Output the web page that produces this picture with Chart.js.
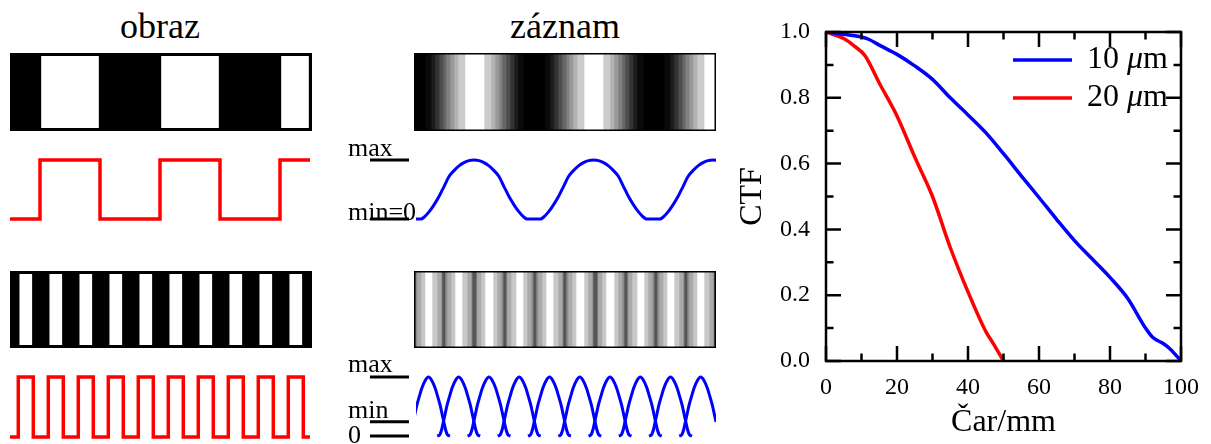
<!DOCTYPE html>
<html lang="cs">
<head>
<meta charset="utf-8">
<title>CTF</title>
<script src="https://cdn.jsdelivr.net/npm/chart.js@4.4.1/dist/chart.umd.min.js"></script>
<style>
	body { margin: 0; background: #fff; }
	#plocha { position: relative; width: 1211px; height: 444px; overflow: hidden; font-family: 'Liberation Serif', serif; }
	#plocha canvas { position: absolute; }
	.nadpis { position: absolute; font-size: 36px; line-height: 36px; transform: translateX(-50%); white-space: nowrap; }
</style>
</head>
<body>
<div id="plocha">
	<div class="nadpis" style="left:160px; top:8px">obraz</div>
	<div class="nadpis" style="left:565px; top:8px">záznam</div>

	<canvas id="obraz1" width="302" height="78" style="left:10px; top:53px"></canvas>
	<canvas id="obdelnik1" width="308" height="71" style="left:6px; top:154px"></canvas>
	<canvas id="zaznam1" width="302" height="78" style="left:414px; top:53px"></canvas>
	<canvas id="signal1" width="380" height="95" style="left:340px; top:135px"></canvas>

	<canvas id="obraz2" width="302" height="77" style="left:10px; top:271px"></canvas>
	<canvas id="obdelnik2" width="308" height="72" style="left:6px; top:371px"></canvas>
	<canvas id="zaznam2" width="302" height="77" style="left:414px; top:271px"></canvas>
	<canvas id="signal2" width="380" height="94" style="left:340px; top:350px"></canvas>

	<canvas id="graf" width="481" height="444" style="left:730px; top:0px"></canvas>
</div>

<script>
/* Data */

// bílé pruhy předlohy (od, do) v px od levého okraje
var pruhy1 = [[30, 90], [150, 210], [270, 300]];
var pruhy2 = [[8.3, 23.3], [38.3, 53.3], [68.3, 83.3], [98.3, 113.3], [128.3, 143.3],
	[158.3, 173.3], [188.3, 203.3], [218.3, 233.3], [248.3, 263.3], [278.3, 293.3]];

// středy světlých míst záznamu
var stredy1 = [60, 179.5, 299];
var stredy2 = [14.5, 44.7, 75, 105.2, 135.5, 165.8, 196, 226.3, 256.5, 286.7];

// odstíny záznamu podle vzdálenosti od středu
var zaznamD1 = [9.5, 16.5, 20.5, 24.5, 28, 31.5, 35.5, 39.5, 43.5, 49, 61];
var zaznamSed1 = [255, 204, 179, 153, 128, 102, 77, 51, 28, 10, 0];
var zaznamD2 = [3.7, 8, 12, 13.5, 16];
var zaznamSed2 = [255, 200, 170, 140, 85];

// průběh signálu podle vzdálenosti od středu
var signalD1 = [0, 5, 10, 15, 20, 25, 30, 35, 40, 45, 50, 53, 60];
var signalV1 = [1, 0.99, 0.955, 0.9, 0.82, 0.72, 0.55, 0.38, 0.24, 0.12, 0.03, 0, 0];
var signalD2 = [0, 3, 6.7, 9, 11.5, 13.5, 15.3, 17, 19, 21.5];
var signalV2 = [1, 0.95, 0.81, 0.68, 0.53, 0.38, 0.24, 0.11, 0.02, 0];
var minimum2 = 0.24;

// CTF
var rozliseni = ['10', '20'];
var car10 = [0, 5, 10, 12, 15, 20, 25, 30, 35, 40, 45, 50, 55, 60, 65, 70, 75, 80, 85, 90, 92, 95, 97, 100];
var ctf10 = [1.0, 0.993, 0.985, 0.978, 0.96, 0.932, 0.897, 0.856, 0.80, 0.748, 0.694, 0.63, 0.563,
	0.497, 0.43, 0.366, 0.31, 0.254, 0.19, 0.10, 0.072, 0.053, 0.036, 0.0];
var car20 = [0, 5, 8, 11, 15, 20, 25, 30, 35, 40, 45, 47, 50];
var ctf20 = [1.0, 0.98, 0.957, 0.928, 0.845, 0.745, 0.62, 0.50, 0.345, 0.21, 0.09, 0.055, 0.0];

Chart.defaults.font.family = "'Liberation Serif', serif";
Chart.defaults.color = '#000';

var zakladni = {
	responsive: false,
	animation: false,
	events: [],
	plugins: { legend: { display: false }, tooltip: { enabled: false } }
};

function nastaveni(dalsi) {
	return Object.assign({}, zakladni, dalsi);
}

/* Rámeček a pozadí */
function ramecek(sirka) {
	return {
		id: 'ramecek',
		afterDatasetsDraw: function(chart) {
			var a = chart.chartArea, ctx = chart.ctx;
			ctx.save();
			ctx.strokeStyle = '#000';
			ctx.lineWidth = sirka;
			ctx.strokeRect(a.left + sirka / 2, a.top + sirka / 2, a.right - a.left - sirka, a.bottom - a.top - sirka);
			ctx.restore();
		}
	};
}

var cernePozadi = {
	id: 'cernePozadi',
	beforeDatasetsDraw: function(chart) {
		var a = chart.chartArea;
		chart.ctx.save();
		chart.ctx.fillStyle = '#000';
		chart.ctx.fillRect(a.left, a.top, a.right - a.left, a.bottom - a.top);
		chart.ctx.restore();
	}
};

/* Pruhy (předloha i záznam) jako vodorovné plovoucí sloupce */
function pruhovyGraf(id, useky, rozsah, okraj, pluginy) {
	new Chart(document.getElementById(id), {
		type: 'bar',
		data: {
			labels: [''],
			datasets: useky.map(function(u) {
				return {
					data: [[u[0], u[1]]],
					backgroundColor: u[2],
					borderColor: '#000',
					borderWidth: okraj,
					borderSkipped: false,
					barPercentage: 1,
					categoryPercentage: 1,
					grouped: false
				};
			})
		},
		options: nastaveni({
			indexAxis: 'y',
			layout: { padding: 0 },
			scales: {
				x: { type: 'linear', min: 0, max: rozsah, display: false },
				y: { display: false }
			}
		}),
		plugins: pluginy
	});
}

function bilePruhy(pruhy) {
	return pruhy.map(function(p) { return [p[0], p[1], '#fff']; });
}

// rozdělí záznam na úseky stejného odstínu
function odstiny(stredy, hrany, sede, rozsah) {
	var body = [0, rozsah];
	stredy.forEach(function(c) {
		hrany.forEach(function(h) {
			[c - h, c + h].forEach(function(x) {
				if (x > 0 && x < rozsah) body.push(Math.round(x));
			});
		});
	});
	body.sort(function(a, b) { return a - b; });
	var useky = [];
	for (var i = 0; i < body.length - 1; i++) {
		if (body[i + 1] - body[i] < 0.5) continue;
		var m = (body[i] + body[i + 1]) / 2;
		var d = Math.min.apply(null, stredy.map(function(c) { return Math.abs(m - c); }));
		var k = 0;
		while (k < hrany.length - 1 && d >= hrany[k]) k++;
		var s = sede[k];
		useky.push([body[i], body[i + 1], 'rgb(' + s + ',' + s + ',' + s + ')']);
	}
	return useky;
}

/* Obdélníkový průběh předlohy */
function obdelnik(pruhy, konec) {
	var body = [{ x: 0, y: 0 }];
	pruhy.forEach(function(p) {
		body.push({ x: p[0], y: 1 });
		body.push(p[1] >= konec ? { x: konec, y: 1 } : { x: p[1], y: 0 });
	});
	if (body[body.length - 1].x < konec) body.push({ x: konec, y: 0 });
	return body;
}

function obdelnikGraf(id, pruhy) {
	new Chart(document.getElementById(id), {
		type: 'line',
		data: {
			datasets: [{
				data: obdelnik(pruhy, 300),
				stepped: true,
				borderColor: '#ff0000',
				borderWidth: 3.5,
				pointRadius: 0,
				clip: false
			}]
		},
		options: nastaveni({
			layout: { padding: { left: 4, right: 4, top: 6, bottom: 6 } },
			scales: {
				x: { type: 'linear', min: 0, max: 300, display: false },
				y: { min: 0, max: 1, display: false }
			}
		})
	});
}

/* Signál záznamu */
function vrchol(c, profilD, profilV) {
	var body = [];
	for (var i = profilD.length - 1; i > 0; i--) body.push({ x: c - profilD[i], y: profilV[i] });
	for (var j = 0; j < profilD.length; j++) body.push({ x: c + profilD[j], y: profilV[j] });
	return body;
}

function znacka(uroven) {
	return {
		data: [{ x: -44, y: uroven }, { x: -5, y: uroven }],
		borderColor: '#000',
		borderWidth: 3,
		pointRadius: 0,
		clip: false
	};
}

function popisky(texty) {
	return {
		id: 'popisky',
		afterDatasetsDraw: function(chart) {
			var ctx = chart.ctx, sx = chart.scales.x, sy = chart.scales.y;
			ctx.save();
			ctx.font = "26px 'Liberation Serif', serif";
			ctx.fillStyle = '#000';
			ctx.textBaseline = 'alphabetic';
			texty.forEach(function(t) {
				ctx.fillText(t.text, sx.getPixelForValue(-66), sy.getPixelForValue(t.y) + t.posun);
			});
			ctx.restore();
		}
	};
}

function signalGraf(id, rady, znacky, texty, odsazeni) {
	var datasets = rady.map(function(body) {
		return {
			data: body,
			borderColor: '#0000ff',
			borderWidth: 3,
			pointRadius: 0,
			cubicInterpolationMode: 'monotone',
			// křivka začíná až u okraje záznamu
			clip: { left: -72, right: 0, top: 8, bottom: 8 }
		};
	});
	znacky.forEach(function(u) { datasets.push(znacka(u)); });
	new Chart(document.getElementById(id), {
		type: 'line',
		data: { datasets: datasets },
		options: nastaveni({
			layout: { padding: odsazeni },
			scales: {
				x: { type: 'linear', min: -70, max: 302, display: false },
				y: { min: 0, max: 1, display: false }
			}
		}),
		plugins: [popisky(texty)]
	});
}

/* Graf CTF */
var ctfOsy = {
	id: 'ctfOsy',
	afterDatasetsDraw: function(chart) {
		var ctx = chart.ctx, a = chart.chartArea, sx = chart.scales.x, sy = chart.scales.y;
		ctx.save();
		ctx.strokeStyle = '#000';
		ctx.lineWidth = 2.5;
		ctx.beginPath();
		for (var v = 0; v <= 100; v += 10) {
			var x = sx.getPixelForValue(v), l = v % 20 === 0 ? 15 : 7.5;
			ctx.moveTo(x, a.bottom); ctx.lineTo(x, a.bottom - l);
			ctx.moveTo(x, a.top); ctx.lineTo(x, a.top + l);
		}
		for (var i = 0; i <= 10; i++) {
			var y = sy.getPixelForValue(i / 10), m = i % 2 === 0 ? 15 : 7.5;
			ctx.moveTo(a.left, y); ctx.lineTo(a.left + m, y);
			ctx.moveTo(a.right, y); ctx.lineTo(a.right - m, y);
		}
		ctx.stroke();
		ctx.strokeRect(a.left, a.top, a.right - a.left, a.bottom - a.top);
		ctx.restore();
	}
};

var ctfLegenda = {
	id: 'ctfLegenda',
	afterDraw: function(chart) {
		var ctx = chart.ctx;
		ctx.save();
		ctx.textBaseline = 'middle';
		chart.data.datasets.forEach(function(ds, i) {
			var y = 60 + i * 38;
			ctx.strokeStyle = ds.borderColor;
			ctx.lineWidth = 3.5;
			ctx.beginPath();
			ctx.moveTo(283, y);
			ctx.lineTo(342, y);
			ctx.stroke();

			var casti = ds.label.split('μ'), x = 357;
			ctx.fillStyle = '#000';
			ctx.font = "32px 'Liberation Serif', serif";
			ctx.fillText(casti[0], x, y);
			x += ctx.measureText(casti[0]).width;
			ctx.font = "italic 32px 'Liberation Serif', serif";
			ctx.fillText('μ', x, y);
			x += ctx.measureText('μ').width;
			ctx.font = "32px 'Liberation Serif', serif";
			ctx.fillText(casti[1], x, y);
		});
		ctx.restore();
	}
};

function body(xs, ys) {
	return xs.map(function(x, i) { return { x: x, y: ys[i] }; });
}

function ctfGraf() {
	new Chart(document.getElementById('graf'), {
		type: 'line',
		data: {
			datasets: [{
				label: rozliseni[0] + ' μm',
				data: body(car10, ctf10),
				borderColor: '#0000ff',
				borderWidth: 3.5,
				pointRadius: 0,
				cubicInterpolationMode: 'monotone'
			}, {
				label: rozliseni[1] + ' μm',
				data: body(car20, ctf20),
				borderColor: '#ff0000',
				borderWidth: 3.5,
				pointRadius: 0,
				cubicInterpolationMode: 'monotone'
			}]
		},
		options: nastaveni({
			layout: { padding: { top: 32, right: 21, left: 0, bottom: 0 } },
			scales: {
				x: {
					type: 'linear', min: 0, max: 100,
					grid: { display: false, drawTicks: false },
					border: { display: false },
					ticks: { stepSize: 20, padding: 12, font: { size: 24 } },
					title: { display: true, text: 'Čar/mm', font: { size: 32 }, padding: { top: 0, bottom: 2 } },
					afterFit: function(scale) { scale.height = 83; }
				},
				y: {
					min: 0, max: 1,
					grid: { display: false, drawTicks: false },
					border: { display: false },
					ticks: {
						stepSize: 0.2, padding: 16, font: { size: 24 },
						callback: function(v) { return v.toFixed(1); }
					},
					title: { display: true, text: 'CTF', font: { size: 32 }, padding: { top: 3, bottom: 0 } },
					afterFit: function(scale) { scale.width = 96; }
				}
			}
		}),
		plugins: [ctfOsy, ctfLegenda]
	});
}

/* Vykreslení */
pruhovyGraf('obraz1', bilePruhy(pruhy1), 302, 1.5, [cernePozadi, ramecek(3)]);
pruhovyGraf('obraz2', bilePruhy(pruhy2), 302, 1.5, [cernePozadi, ramecek(3)]);
pruhovyGraf('zaznam1', odstiny(stredy1, zaznamD1, zaznamSed1, 302), 302, 0, [ramecek(1.5)]);
pruhovyGraf('zaznam2', odstiny(stredy2, zaznamD2, zaznamSed2, 302), 302, 0, [ramecek(1.5)]);

obdelnikGraf('obdelnik1', pruhy1);
obdelnikGraf('obdelnik2', pruhy2);

var rady1 = [[]];
stredy1.forEach(function(c) { rady1[0] = rady1[0].concat(vrchol(c, signalD1, signalV1)); });
rady1[0].sort(function(a, b) { return a.x - b.x; });
signalGraf('signal1', rady1, [1, 0],
	[{ text: 'max', y: 1, posun: -4 }, { text: 'min=0', y: 0, posun: 1 }],
	{ left: 4, right: 4, top: 25, bottom: 11 });

var rady2 = stredy2.map(function(c) { return vrchol(c, signalD2, signalV2); });
signalGraf('signal2', rady2, [1, minimum2, 0],
	[{ text: 'max', y: 1, posun: -5 }, { text: 'min', y: minimum2, posun: -4 }, { text: '0', y: 0, posun: 7 }],
	{ left: 4, right: 4, top: 27, bottom: 8 });

ctfGraf();
</script>
</body>
</html>
